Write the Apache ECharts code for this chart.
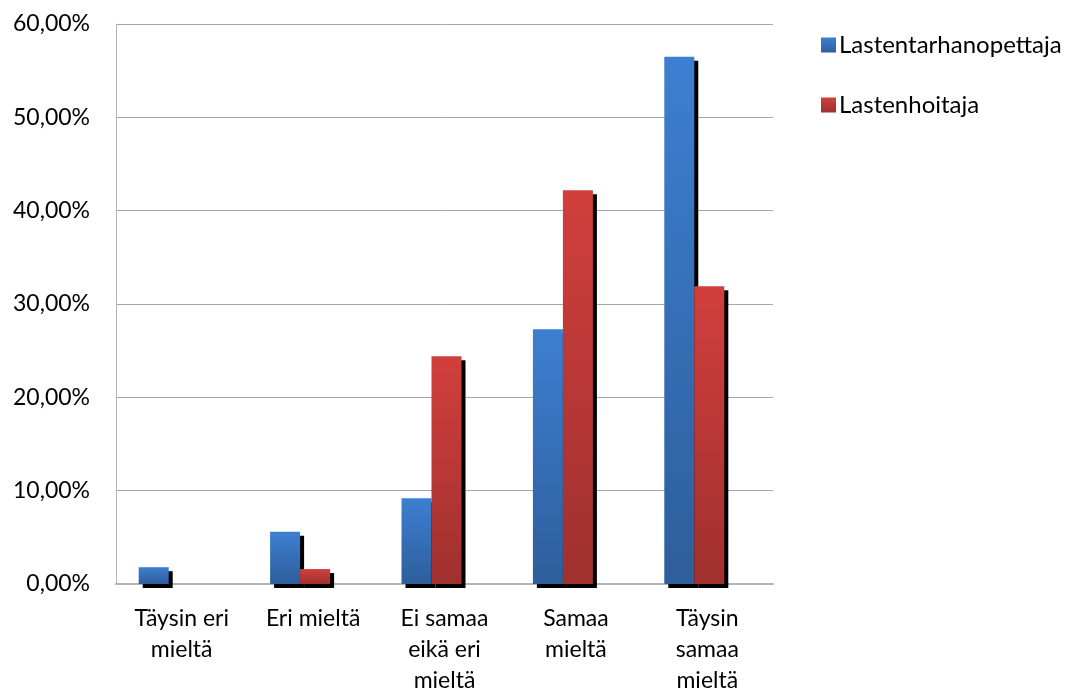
<!DOCTYPE html>
<html>
<head>
<meta charset="utf-8">
<script src="https://cdn.jsdelivr.net/npm/echarts@6/dist/echarts.min.js"></script>
<style>
  html, body { margin: 0; padding: 0; background: #fff; }
  #chart { width: 1084px; height: 696px; }
</style>
</head>
<body>
<div id="chart"></div>
<script>
// kategoriat (rivitetty kuten kuvassa)
var categories = ['Täysin eri\nmieltä', 'Eri mieltä', 'Ei samaa\neikä eri\nmieltä', 'Samaa\nmieltä', 'Täysin\nsamaa\nmieltä'];
var seriesNames = ['Lastentarhanopettaja', 'Lastenhoitaja'];
var opettajaValues = [1.8, 5.6, 9.2, 27.3, 56.5];
var hoitajaValues = [0, 1.6, 24.4, 42.2, 31.9];
var yTicks = [0, 10, 20, 30, 40, 50, 60];

var font = 'Lato, "Open Sans", sans-serif';

function grad(top, bottom) {
    return new echarts.graphic.LinearGradient(0, 0, 0, 1, [
        { offset: 0, color: top },
        { offset: 1, color: bottom }
    ]);
}

var myChart = echarts.init(document.getElementById('chart'));

var option = {
    backgroundColor: '#fff',
    animation: false,
    grid: { left: 116, top: 24, width: 657, height: 560 },
    legend: {
        data: seriesNames,
        orient: 'vertical',
        left: 816,
        top: 28,
        itemGap: 36,
        itemWidth: 15,
        itemHeight: 15,
        icon: 'rect',
        textStyle: { fontFamily: font, fontSize: 24, lineHeight: 24, color: '#000', padding: [0, 0, 0, -2] }
    },
    xAxis: {
        type: 'category',
        data: categories,
        axisLine: { lineStyle: { color: '#b4b4b4', width: 2 } },
        axisTick: { show: false },
        axisLabel: {
            interval: 0,
            margin: 19,
            fontFamily: font,
            fontSize: 23,
            lineHeight: 31,
            color: '#000'
        }
    },
    yAxis: {
        type: 'value',
        min: yTicks[0],
        max: yTicks[yTicks.length - 1],
        interval: 10,
        axisLine: { show: true, lineStyle: { color: '#b4b4b4', width: 1 } },
        axisTick: { show: false },
        splitLine: { lineStyle: { color: '#a6a6a6', width: 1 } },
        axisLabel: {
            margin: 26,
            fontFamily: font,
            fontSize: 23,
            color: '#000',
            formatter: function (v) { return v.toFixed(2).replace('.', ',') + '%'; }
        }
    },
    series: [
        {
            name: seriesNames[0],
            type: 'bar',
            barWidth: 30,
            barGap: '0%',
            data: opettajaValues,
            itemStyle: {
                color: grad('#3d7fd1', '#2e5e9b'),
                shadowColor: '#000',
                shadowOffsetX: 4,
                shadowOffsetY: 4,
                shadowBlur: 0
            }
        },
        {
            name: seriesNames[1],
            type: 'bar',
            barWidth: 30,
            barGap: '0%',
            data: hoitajaValues,
            itemStyle: {
                color: grad('#d13f3c', '#9f302e'),
                shadowColor: '#000',
                shadowOffsetX: 4,
                shadowOffsetY: 4,
                shadowBlur: 0
            }
        },
        {
            // tyhjä välike, siirtää pylväsparin vasemmalle kuten alkuperäisessä
            name: 'spacer',
            type: 'bar',
            barWidth: 26,
            barGap: '0%',
            silent: true,
            data: []
        }
    ]
};

myChart.setOption(option);
</script>
</body>
</html>
